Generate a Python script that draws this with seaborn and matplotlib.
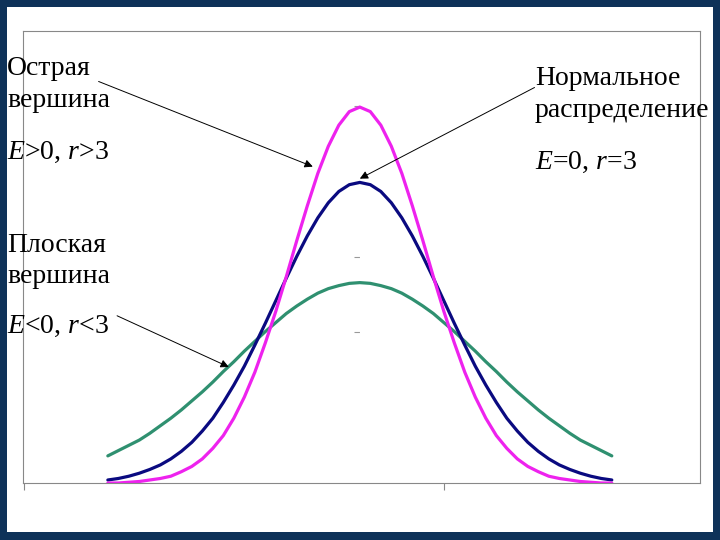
import numpy as np
import pandas as pd
import matplotlib
matplotlib.use("Agg")
import matplotlib.pyplot as plt
from matplotlib.patches import Rectangle
import seaborn as sns

# x positions of the plotted points
x_vals = [-3.0, -2.875, -2.75, -2.625, -2.5, -2.375, -2.25, -2.125, -2.0, -1.875, -1.75, -1.625,
          -1.5, -1.375, -1.25, -1.125, -1.0, -0.875, -0.75, -0.625, -0.5, -0.375, -0.25, -0.125,
          0.0,
          0.125, 0.25, 0.375, 0.5, 0.625, 0.75, 0.875, 1.0, 1.125, 1.25, 1.375, 1.5,
          1.625, 1.75, 1.875, 2.0, 2.125, 2.25, 2.375, 2.5, 2.625, 2.75, 2.875, 3.0]

# sharp peak (E>0)
sharp = [0.000, 0.000, 0.001, 0.002, 0.004, 0.006, 0.009, 0.015, 0.022, 0.032, 0.046, 0.063,
         0.086, 0.114, 0.147, 0.186, 0.228, 0.274, 0.322, 0.368, 0.411, 0.447, 0.475, 0.493,
         0.499,
         0.493, 0.475, 0.447, 0.411, 0.368, 0.322, 0.274, 0.228, 0.186, 0.147, 0.114, 0.086,
         0.063, 0.046, 0.032, 0.022, 0.015, 0.009, 0.006, 0.004, 0.002, 0.001, 0.000, 0.000]

# normal distribution (E=0)
normal = [0.004, 0.006, 0.009, 0.013, 0.018, 0.024, 0.032, 0.042, 0.054, 0.069, 0.086, 0.107,
          0.130, 0.155, 0.183, 0.212, 0.242, 0.272, 0.301, 0.328, 0.352, 0.372, 0.387, 0.396,
          0.399,
          0.396, 0.387, 0.372, 0.352, 0.328, 0.301, 0.272, 0.242, 0.212, 0.183, 0.155, 0.130,
          0.107, 0.086, 0.069, 0.054, 0.042, 0.032, 0.024, 0.018, 0.013, 0.009, 0.006, 0.004]

# flat peak (E<0)
flat = [0.036, 0.043, 0.050, 0.057, 0.066, 0.076, 0.086, 0.097, 0.109, 0.121, 0.134, 0.148,
        0.161, 0.175, 0.188, 0.201, 0.213, 0.225, 0.235, 0.244, 0.252, 0.258, 0.262, 0.265,
        0.266,
        0.265, 0.262, 0.258, 0.252, 0.244, 0.235, 0.225, 0.213, 0.201, 0.188, 0.175, 0.161,
        0.148, 0.134, 0.121, 0.109, 0.097, 0.086, 0.076, 0.066, 0.057, 0.050, 0.043, 0.036]

curve_names = ["flat", "normal", "sharp"]
curve_colors = {"flat": "#2f9070", "normal": "#0a0a80", "sharp": "#ee22ee"}

df = pd.concat([
    pd.DataFrame({"x": x_vals, "y": flat, "curve": "flat"}),
    pd.DataFrame({"x": x_vals, "y": normal, "curve": "normal"}),
    pd.DataFrame({"x": x_vals, "y": sharp, "curve": "sharp"}),
])

sns.set_style("white")
plt.rcParams["font.family"] = ["Liberation Serif", "DejaVu Serif"]
plt.rcParams["text.color"] = "black"
plt.rcParams["mathtext.fontset"] = "custom"
plt.rcParams["mathtext.it"] = "Liberation Serif:italic"
plt.rcParams["mathtext.rm"] = "Liberation Serif"

fig = plt.figure(figsize=(7.2, 5.4), dpi=100, facecolor="#0e3259")
# white slide area inside the dark border
fig.patches.append(Rectangle((7 / 720, 8 / 540), 706 / 720, 525 / 540,
                             transform=fig.transFigure, facecolor="white",
                             edgecolor="none", zorder=-10))

ax = fig.add_axes([23 / 720, 57 / 540, 677 / 720, 452 / 540])
ax.set_facecolor("none")

sns.lineplot(data=df, x="x", y="y", hue="curve", hue_order=curve_names,
             palette=curve_colors, linewidth=2.3, legend=False, ax=ax)

ax.set_xlim(-4.01, 4.05)
ax.set_ylim(0, 0.6)
ax.set_xlabel("")
ax.set_ylabel("")
for s in ax.spines.values():
    s.set_visible(True)
    s.set_color("#888888")
    s.set_linewidth(0.8)
ax.set_xticks([-4, 1])
ax.set_xticklabels([])
ax.set_yticks([])
ax.tick_params(axis="x", direction="out", length=5, color="#888888", width=0.8, bottom=True)

# faint central axis with small ticks
sec = ax.secondary_yaxis(4.01 / 8.06)
sec.spines["left"].set_color("white")
sec.set_yticks([0.2, 0.3, 0.4, 0.5])
sec.set_yticklabels([])
sec.tick_params(direction="out", length=4, color="#999999", width=0.8)

fs = 20
# left labels
fig.text(7 / 720, 1 - 75 / 540, "Острая", fontsize=fs, va="baseline")
fig.text(7 / 720, 1 - 107 / 540, "вершина", fontsize=fs, va="baseline")
fig.text(7 / 720, 1 - 159 / 540, r"$E$>0, $r$>3", fontsize=fs, va="baseline")

fig.text(7 / 720, 1 - 252 / 540, "Плоская", fontsize=fs, va="baseline")
fig.text(7 / 720, 1 - 283 / 540, "вершина", fontsize=fs, va="baseline")
fig.text(7 / 720, 1 - 333 / 540, r"$E$<0, $r$<3", fontsize=fs, va="baseline")

# right labels
fig.text(535 / 720, 1 - 85 / 540, "Нормальное", fontsize=fs, va="baseline")
fig.text(535 / 720, 1 - 117 / 540, "распределение", fontsize=fs, va="baseline")
fig.text(535 / 720, 1 - 169 / 540, r"$E$=0, $r$=3", fontsize=fs, va="baseline")

arrow = dict(arrowstyle="-|>", color="black", lw=0.7, mutation_scale=12, shrinkA=0, shrinkB=0)
ax.annotate("", xy=(-0.56, 0.42), xytext=(-3.11, 0.533), arrowprops=arrow, annotation_clip=False)
ax.annotate("", xy=(0.0, 0.404), xytext=(2.08, 0.525), arrowprops=arrow, annotation_clip=False)
ax.annotate("", xy=(-1.56, 0.154), xytext=(-2.89, 0.222), arrowprops=arrow, annotation_clip=False)

fig.savefig("out.png", dpi=100, facecolor=fig.get_facecolor())
